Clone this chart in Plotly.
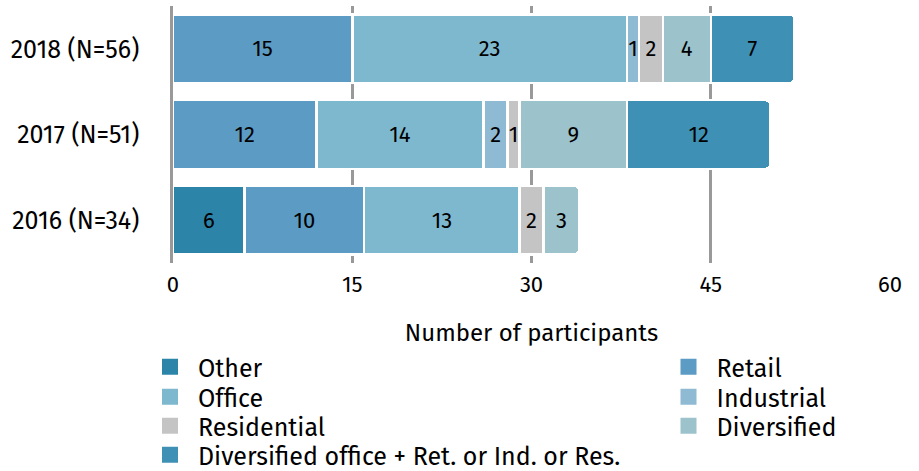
import plotly.graph_objects as go

categories = ["2016 (N=34)", "2017 (N=51)", "2018 (N=56)"]
series_names = ["Other", "Retail", "Office", "Industrial", "Residential", "Diversified",
                "Diversified office + Ret. or Ind. or Res."]
other = [6, 0, 0]
retail = [10, 12, 15]
office = [13, 14, 23]
industrial = [0, 2, 1]
residential = [2, 1, 2]
diversified = [3, 9, 4]
div_office = [0, 12, 7]
x_ticks = [0, 15, 30, 45, 60]

colors = ["#2c84a8", "#5b9bc4", "#7db8cf", "#8fbad4", "#c4c4c4", "#9cc2cc", "#3e90b5"]
values = [other, retail, office, industrial, residential, diversified, div_office]

# legend layout: (column x in container fraction, row y centre in container fraction)
COL1, COL2 = 142 / 919, 660.5 / 919
legend_pos = [(COL1, 1 - 367 / 471), (COL2, 1 - 367 / 471),
              (COL1, 1 - 397 / 471), (COL2, 1 - 397 / 471),
              (COL1, 1 - 426 / 471), (COL2, 1 - 426 / 471),
              (COL1, 1 - 455 / 471)]

FONT = "Fira Sans, Noto Sans, sans-serif"

fig = go.Figure()
for name, vals, col in zip(series_names, values, colors):
    fig.add_trace(go.Bar(
        y=categories, x=[v if v else None for v in vals], name=name, orientation="h",
        marker=dict(color=col, line=dict(color="white", width=2.5)),
        text=[str(v) if v else "" for v in vals],
        textposition="inside", insidetextanchor="middle",
        textfont=dict(color="black", size=22, family=FONT),
        hoverinfo="skip", showlegend=False,
    ))

legend_layout = {}
for i, (name, col, (lx, ly)) in enumerate(zip(series_names, colors, legend_pos)):
    lid = "legend" if i == 0 else f"legend{i + 1}"
    fig.add_trace(go.Scatter(
        x=[None], y=[None], xaxis="x2", yaxis="y2", mode="markers", name=name, legend=lid,
        marker=dict(symbol="square", size=16, color=col),
        showlegend=True, hoverinfo="skip",
    ))
    legend_layout[lid] = dict(orientation="v", xref="container", yref="container",
                              x=lx, xanchor="left", y=ly, yanchor="middle",
                              itemwidth=46, font=dict(size=25),
                              bgcolor="rgba(0,0,0,0)")

fig.update_layout(
    barmode="stack", bargap=0.2, barcornerradius=5,
    width=919, height=471,
    margin=dict(l=173, r=29, t=6, b=208, autoexpand=False),
    plot_bgcolor="white", paper_bgcolor="white",
    font=dict(family=FONT, size=20, color="black"),
    uniformtext=dict(minsize=22, mode="show"),
    xaxis=dict(range=[0, 60], tickvals=x_ticks, showgrid=True, gridcolor="#999999",
               gridwidth=2.5, zeroline=False, showline=False,
               ticks="outside", ticklen=2, tickcolor="rgba(0,0,0,0)",
               title=dict(text="Number of participants", standoff=26, font=dict(size=24)),
               tickfont=dict(size=22)),
    yaxis=dict(categoryorder="array", categoryarray=categories, showgrid=False,
               showline=True, linecolor="#999999", linewidth=2.5,
               ticks="outside", ticklen=26, tickcolor="rgba(0,0,0,0)",
               tickfont=dict(size=25)),
    xaxis2=dict(overlaying="x", anchor="y2", visible=False, type="linear", range=[0, 1]),
    yaxis2=dict(overlaying="y", anchor="x2", visible=False, type="linear", range=[0, 1]),
    **legend_layout,
)

fig.write_html("out.html", config={"displayModeBar": False},
               post_script="document.body.style.margin='0px';")
